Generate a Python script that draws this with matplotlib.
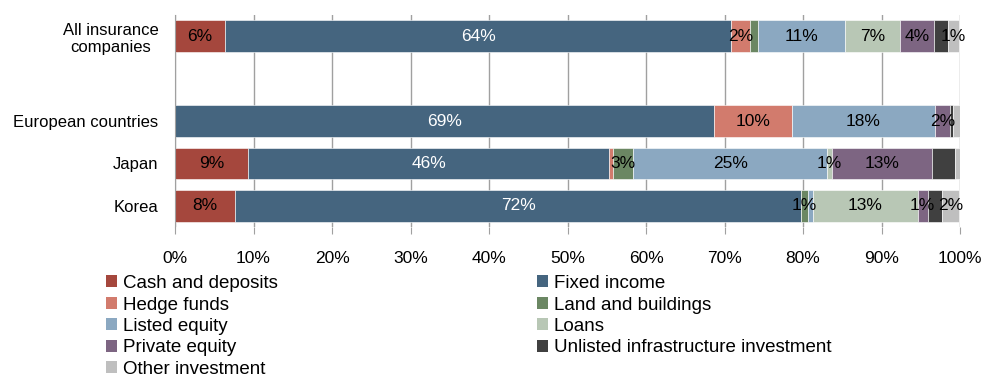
import numpy as np
import matplotlib
matplotlib.use("Agg")
import matplotlib.pyplot as plt
from matplotlib.patches import Patch

plt.rcParams['font.family'] = ['Liberation Sans', 'DejaVu Sans']

# ---- data: share of total investment (%) ----
rows = ["All insurance\ncompanies", "European countries", "Japan", "Korea"]

series = ["Cash and deposits", "Fixed income", "Hedge funds", "Land and buildings",
          "Listed equity", "Loans", "Private equity",
          "Unlisted infrastructure investment", "Other investment"]

cash = [6.4, 0.0, 9.3, 7.7]
fixed_income = [64.4, 68.6, 46.0, 72.1]
hedge = [2.4, 10.0, 0.5, 0.0]
land = [1.1, 0.0, 2.6, 0.8]
listed = [11.1, 18.2, 24.7, 0.7]
loans = [6.9, 0.0, 0.6, 13.3]
private = [4.4, 1.9, 12.7, 1.3]
unlisted = [1.8, 0.4, 3.0, 1.8]
other = [1.4, 0.9, 0.6, 2.2]

colors = ["#A5473D", "#45657F", "#D27B6D", "#6B8763", "#8BA8C1",
          "#B8C7B5", "#7D6582", "#404040", "#BFBFBF"]

# segments left unlabelled (row index, series index)
no_label = {(0, 3), (1, 8), (2, 2), (2, 8), (3, 4)}
no_label |= {(r, 7) for r in range(4)}

values = np.array([cash, fixed_income, hedge, land, listed, loans,
                   private, unlisted, other])

# ============================
# Plot
# ============================
fig = plt.figure(figsize=(9.82, 3.87), dpi=100)
ax = fig.add_axes([175/982, 1 - 227/387, 785/982, 212/387])

ypos = np.array([0, 2, 3, 4])  # gap after the aggregate row
left = np.zeros(len(rows))
for s in range(len(series)):
    ax.barh(ypos, values[s], left=left, height=0.75, color=colors[s],
            edgecolor="white", linewidth=0.4, zorder=2)
    for r in range(len(rows)):
        v = values[s, r]
        if v <= 0 or (r, s) in no_label:
            continue
        tc = "white" if s == 1 else "black"
        ax.text(left[r] + v / 2, ypos[r], f"{v:.0f}%", ha="center", va="center",
                fontsize=12.5, color=tc, zorder=3)
    left += values[s]

ax.set_xlim(0, 100)
ax.set_ylim(4.5, -0.5)
ax.set_yticks(ypos)
ax.set_yticklabels(rows, fontsize=12, multialignment="center")
ax.set_xticks(np.arange(0, 101, 10))
ax.set_xticklabels([f"{t}%" for t in range(0, 101, 10)], fontsize=12.5)
ax.tick_params(axis="y", length=0, pad=12)
ax.tick_params(axis="x", length=5, color="#A0A0A0", pad=12)

ax.grid(axis="x", color="#A0A0A0", linewidth=1)
ax.set_axisbelow(True)
for side in ["top", "right", "bottom"]:
    ax.spines[side].set_visible(False)
ax.spines["left"].set_color("#A0A0A0")

# legend laid out row by row in two columns
handles = [Patch(facecolor=c, edgecolor="none") for c in colors]
leg_kw = dict(loc="upper left", frameon=False, fontsize=13.5, borderpad=0,
              borderaxespad=0, handlelength=0.6, handleheight=0.6,
              handletextpad=0.3, labelspacing=0.24)
col1 = [0, 2, 4, 6, 8]
col2 = [1, 3, 5, 7]
fig.legend([handles[i] for i in col1], [series[i] for i in col1],
           bbox_to_anchor=(106/982, 1 - 275/387), **leg_kw)
fig.legend([handles[i] for i in col2], [series[i] for i in col2],
           bbox_to_anchor=(537/982, 1 - 275/387), **leg_kw)

fig.savefig("out.png", dpi=100)
